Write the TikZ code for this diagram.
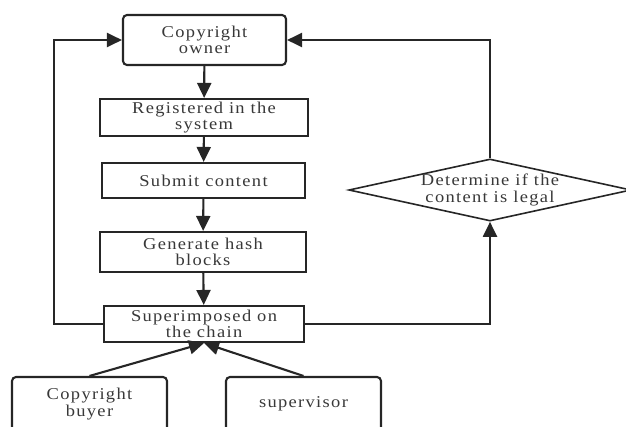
\documentclass[tikz,border=0pt]{standalone}
\usepackage{fontspec}
\setmainfont{Liberation Serif}[FakeStretch=1.12,LetterSpace=8]
\usetikzlibrary{arrows.meta,shapes.geometric}
\begin{document}
\begin{tikzpicture}[x=1pt,y=-1pt,
  line width=2.1pt, draw=black!85,
  every node/.style={font=\fontsize{16.5}{16.5}\selectfont, align=center, text=black!78, inner sep=0pt},
  roundbox/.style={draw, rounded corners=4pt},
  arr/.style={-{Triangle[length=15pt,width=14pt]}}]
\useasboundingbox (0,0) rectangle (626,426);

% main chain of steps
\node[roundbox, minimum width=163pt, minimum height=50pt] (owner) at (204.5,40) {Copyright\\owner};
\node[draw, minimum width=208pt, minimum height=37pt] (reg) at (204,117.5) {Registered in the\\system};
\node[draw, minimum width=203pt, minimum height=35pt] (submit) at (203.5,180.5) {Submit content};
\node[draw, minimum width=206pt, minimum height=40pt] (hash) at (203,252) {Generate hash\\blocks};
\node[draw, minimum width=200pt, minimum height=36pt] (super) at (204,324) {Superimposed on\\the chain};
% participants below
\node[roundbox, minimum width=155pt, minimum height=54pt] (buyer) at (89.5,404) {Copyright\\buyer};
\node[roundbox, minimum width=155pt, minimum height=54pt] (superv) at (303.5,404) {supervisor};
% legality check
\node[draw, diamond, aspect=4.55, minimum width=273pt, minimum height=60pt, line width=1.6pt] (legal) at (490,190) {Determine if the\\content is legal};

\draw[arr] (owner) -- (reg);
\draw[arr] (reg) -- (submit);
\draw[arr] (submit) -- (hash);
\draw[arr] (hash) -- (super);
\draw[arr] (super.west) -- ++(-49,0) |- (owner.west);
\draw[arr] (legal.north) |- (owner.east);
\draw[arr] (super.east) -| (legal.south);
\draw[arr] (buyer.north) -- (super.south);
\draw[arr] (superv.north) -- (super.south);
\end{tikzpicture}
\end{document}
